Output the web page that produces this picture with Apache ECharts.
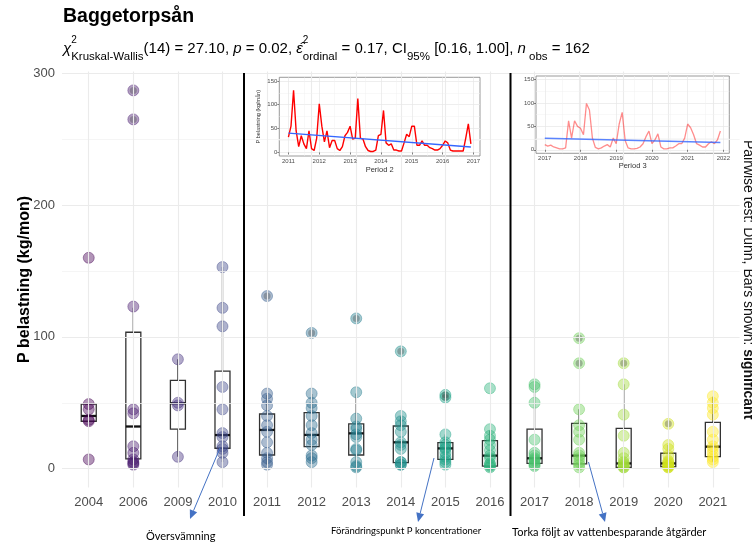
<!DOCTYPE html>
<html><head><meta charset="utf-8">
<script src="https://cdn.jsdelivr.net/npm/echarts@6/dist/echarts.min.js"></script>
<style>html,body{margin:0;padding:0;background:#fff}#c{width:752px;height:545px}</style>
</head><body><div id="c"></div>
<script>
// ---------- data ----------
const years = ['2004','2006','2009','2010','2011','2012','2013','2014','2015','2016','2017','2018','2019','2020','2021'];
const yearColors = ['#440154','#481B6D','#46337E','#3F4889','#365C8D','#2E6E8E','#277F8E','#21908C','#1FA187','#2DB27D','#4AC16D','#71CF57','#9FDA3A','#CFE11C','#FDE725'];
const yTicks = [0, 100, 200, 300];

const p2004 = [160, 49, 45, 37, 36, 7];
const p2006 = [287, 265, 123, 45, 42, 17, 12, 7, 5, 4, 3];
const p2009 = [83, 50, 48, 9];
const p2010 = [153, 122, 108, 62, 45, 27, 24, 17, 15, 12, 5];
const p2011 = [131, 57, 53, 48, 40, 33, 28, 20, 12, 8, 5, 3];
const p2012 = [103, 57, 50, 46, 40, 33, 27, 22, 18, 10, 8, 5];
const p2013 = [114, 58, 38, 32, 30, 26, 24, 15, 14, 5, 2, 1];
const p2014 = [89, 40, 36, 33, 28, 20, 18, 15, 5, 5, 3, 3];
const p2015 = [56, 54, 26, 20, 18, 16, 15, 12, 9, 7, 5, 3];
const p2016 = [61, 30, 25, 22, 18, 14, 10, 8, 4, 3, 2, 1];
const p2017 = [64, 62, 50, 22, 12, 10, 8, 7, 6, 4, 3, 2];
const p2018 = [99, 80, 45, 33, 28, 22, 12, 10, 8, 5, 3, 1];
const p2019 = [80, 64, 41, 25, 12, 8, 5, 4, 3, 2, 1, 1];
const p2020 = [34, 18, 15, 10, 6, 5, 4, 3, 2, 2, 1, 1];
const p2021 = [55, 50, 46, 41, 28, 22, 17, 15, 12, 9, 7, 5];
const pointsByYear = [p2004,p2006,p2009,p2010,p2011,p2012,p2013,p2014,p2015,p2016,p2017,p2018,p2019,p2020,p2021];

// box statistics
const boxLow  = [36, 4, 9, 5, 3, 4.6, 1, 2.8, 2.8, 0.3, 1.5, 0.5, 1, 1, 5.3];
const boxQ1   = [36, 7.4, 30, 15.5, 10.4, 16.7, 10.4, 4.6, 7.1, 2, 4, 3.6, 1, 1.5, 9.1];
const boxMed  = [40, 32, 49.6, 25.5, 29.4, 25.6, 26.8, 20, 15.4, 9.9, 7.9, 9.9, 4, 4, 16.7];
const boxQ3   = [49, 103.5, 67, 74, 41.5, 42.5, 34, 32.4, 19.7, 21.3, 30, 34.4, 30.6, 11.7, 35.2];
const boxHigh = [49, 122, 83, 153, 56, 56.7, 57, 39.5, 26, 28.9, 64, 45, 64, 18, 54.6];

// outliers (year index, value)
const outlierYear  = [1, 1, 4, 5, 6, 7, 8, 8, 11, 11, 12, 13];
const outlierValue = [287, 265, 131, 103, 114, 89, 56, 54, 99, 80, 80, 34];

// inset: monthly loads
const period2 = [32,55,130,45,12,35,18,8,45,8,4,30,
                 102,55,22,45,10,25,25,8,4,12,35,42,
                 55,28,30,113,30,28,12,4,2,2,5,35,
                 38,88,20,15,18,5,5,3,3,20,38,33,
                 55,55,15,15,24,15,15,10,8,5,5,8,
                 15,24,20,5,3,3,3,3,3,30,60,18];
const period3 = [11,8,10,6,4,2,2,4,62,25,62,50,
                 46,32,99,85,25,5,2,4,8,11,6,25,
                 13,55,80,20,4,2,2,3,6,13,28,40,
                 13,21,34,6,2,2,4,4,8,13,13,25,
                 55,47,32,13,10,6,6,13,17,13,21,40];
const period2Start = 2011, period3Start = 2017;
const trend2 = [40.5, 11.5];
const trend3 = [24.5, 15.5];
const inset2Ticks = [2011,2012,2013,2014,2015,2016,2017];
const inset3Ticks = [2017,2018,2019,2020,2021,2022];
const insetYTicks = [0, 50, 100, 150];

// ---------- build ----------
const FONT = '"Liberation Sans", Arial, sans-serif';
const idx = years.map((_, i) => i);
const scatterData = [];
pointsByYear.forEach((arr, i) => arr.forEach(v => scatterData.push({value: [i, v], itemStyle: {color: yearColors[i], borderColor: yearColors[i]}})));
const boxData = idx.map(i => [i, boxLow[i], boxQ1[i], boxMed[i], boxQ3[i], boxHigh[i]]);
const outlierData = outlierYear.map((y, k) => [y, outlierValue[k]]);
const p2Data = period2.map((v, i) => [period2Start + i / 12, v]);
const p3Data = period3.map((v, i) => [period3Start + i / 12, v]);
const t2Data = [[p2Data[0][0], trend2[0]], [p2Data[p2Data.length - 1][0], trend2[1]]];
const t3Data = [[p3Data[0][0], trend3[0]], [p3Data[p3Data.length - 1][0], trend3[1]]];

function renderBox(params, api) {
  const x = api.value(0);
  const lo = api.coord([x, api.value(1)]);
  const q1 = api.coord([x, api.value(2)]);
  const md = api.coord([x, api.value(3)]);
  const q3 = api.coord([x, api.value(4)]);
  const hi = api.coord([x, api.value(5)]);
  const hw = 7.5, st = '#333333';
  return {type: 'group', children: [
    {type: 'line', shape: {x1: lo[0], y1: lo[1], x2: q1[0], y2: q1[1]}, style: {stroke: st, lineWidth: 1.3}},
    {type: 'line', shape: {x1: q3[0], y1: q3[1], x2: hi[0], y2: hi[1]}, style: {stroke: st, lineWidth: 1.3}},
    {type: 'rect', shape: {x: q3[0] - hw, y: q3[1], width: 2 * hw, height: q1[1] - q3[1]}, style: {fill: 'rgba(255,255,255,0.15)', stroke: st, lineWidth: 1.3}},
    {type: 'line', shape: {x1: md[0] - hw, y1: md[1], x2: md[0] + hw, y2: md[1]}, style: {stroke: '#111', lineWidth: 2.3}}
  ]};
}

function gl(color, width) { return {color, width, type: 'solid', opacity: 1}; }
const majorY = [0, 100, 200, 300], minorY = [50, 150, 250];
const mainGridLines = [].concat(
  majorY.map(v => ({yAxis: v, lineStyle: gl('#ebebeb', 1.1)})),
  minorY.map(v => ({yAxis: v, lineStyle: gl('#f2f2f2', 0.8)})),
  idx.map(i => ({xAxis: i, lineStyle: gl('#ebebeb', 1.1)}))
);
function insetLines(xMajor) {
  const out = [];
  [0, 50, 100, 150].forEach(v => out.push({yAxis: v, lineStyle: gl('#e6e6e6', 0.7)}));
  [25, 75, 125].forEach(v => out.push({yAxis: v, lineStyle: gl('#f0f0f0', 0.5)}));
  xMajor.forEach(v => out.push({xAxis: v, lineStyle: gl('#e6e6e6', 0.7)}));
  xMajor.slice(0, -1).forEach(v => out.push({xAxis: v + 0.5, lineStyle: gl('#f0f0f0', 0.5)}));
  return out;
}

function arrow(x1, y1, x2, y2) {
  const ang = Math.atan2(y2 - y1, x2 - x1), L = 9, W = 4;
  const bx = x2 - L * Math.cos(ang), by = y2 - L * Math.sin(ang);
  const px = -Math.sin(ang) * W, py = Math.cos(ang) * W;
  return [
    {type: 'line', z: 20, shape: {x1, y1, x2: bx, y2: by}, style: {stroke: '#4472C4', lineWidth: 1}},
    {type: 'polygon', z: 20, shape: {points: [[x2, y2], [bx + px, by + py], [bx - px, by - py]]}, style: {fill: '#4472C4'}}
  ];
}

const insetAxisCommon = {
  axisLine: {show: false},
  axisTick: {show: true, length: 2, lineStyle: {color: '#333', width: 0.6}},
  axisLabel: {fontSize: 6, color: '#4d4d4d', fontFamily: FONT, margin: 2},
  splitLine: {show: false}, z: 6, nameMoveOverlap: false
};
const markCommon = {silent: true, symbol: 'none', label: {show: false}, lineStyle: {type: 'solid'}, emphasis: {disabled: true}};

const option = {
  backgroundColor: '#ffffff',
  animation: false,
  grid: [
    {left: 62, right: 12.4, top: 71.4, bottom: 57.4, outerBoundsMode: 'none', containLabel: false},
    {left: 279.3, top: 77.3, width: 200.7, height: 78.7, show: true, backgroundColor: '#fff', borderColor: '#808080', borderWidth: 0.8, z: 5, outerBoundsMode: 'none'},
    {left: 536, top: 76, width: 193.3, height: 77.3, show: true, backgroundColor: '#fff', borderColor: '#808080', borderWidth: 0.8, z: 5, outerBoundsMode: 'none'}
  ],
  xAxis: [
    {type: 'value', gridIndex: 0, min: -0.6, max: 14.6,
     axisLine: {show: false},
     axisTick: {show: true, customValues: idx, length: 4, lineStyle: {color: '#333', width: 1}},
     axisLabel: {customValues: idx, formatter: v => years[Math.round(v)], fontSize: 13, color: '#4d4d4d', fontFamily: FONT, margin: 8},
     splitLine: {show: false}},
    Object.assign({}, insetAxisCommon, {type: 'value', gridIndex: 1, min: 2010.704, max: 2017.212,
     axisTick: Object.assign({}, insetAxisCommon.axisTick, {customValues: inset2Ticks}),
     axisLabel: Object.assign({}, insetAxisCommon.axisLabel, {customValues: inset2Ticks, formatter: v => String(Math.round(v))}),
     name: 'Period 2', nameLocation: 'middle', nameGap: 9.5, nameTextStyle: {fontSize: 7.5, color: '#333', fontFamily: FONT, verticalAlign: 'top'}}),
    Object.assign({}, insetAxisCommon, {type: 'value', gridIndex: 2, min: 2016.754, max: 2022.166,
     axisTick: Object.assign({}, insetAxisCommon.axisTick, {customValues: inset3Ticks}),
     axisLabel: Object.assign({}, insetAxisCommon.axisLabel, {customValues: inset3Ticks, formatter: v => String(Math.round(v))}),
     name: 'Period 3', nameLocation: 'middle', nameGap: 9, nameTextStyle: {fontSize: 7.5, color: '#333', fontFamily: FONT, verticalAlign: 'top'}})
  ],
  yAxis: [
    {type: 'value', gridIndex: 0, min: -14.35, max: 301.4,
     axisLine: {show: false},
     axisTick: {show: true, customValues: yTicks, length: 4, lineStyle: {color: '#333', width: 1}},
     axisLabel: {customValues: yTicks, fontSize: 13, color: '#4d4d4d', fontFamily: FONT, margin: 7},
     splitLine: {show: false},
     name: 'P belastning (kg/mon)', nameLocation: 'middle', nameGap: 29, nameMoveOverlap: false,
     nameTextStyle: {fontSize: 16, fontWeight: 'bold', color: '#000', fontFamily: FONT}},
    Object.assign({}, insetAxisCommon, {type: 'value', gridIndex: 1, min: -7.5, max: 157.5,
     axisTick: Object.assign({}, insetAxisCommon.axisTick, {customValues: insetYTicks}),
     axisLabel: Object.assign({}, insetAxisCommon.axisLabel, {customValues: insetYTicks}),
     name: 'P belastning (kg/mån)', nameLocation: 'middle', nameGap: 18, nameTextStyle: {fontSize: 5.5, color: '#333', fontFamily: FONT}}),
    Object.assign({}, insetAxisCommon, {type: 'value', gridIndex: 2, min: -7.5, max: 157.5,
     axisTick: Object.assign({}, insetAxisCommon.axisTick, {customValues: insetYTicks}),
     axisLabel: Object.assign({}, insetAxisCommon.axisLabel, {customValues: insetYTicks})})
  ],
  series: [
    {type: 'scatter', xAxisIndex: 0, yAxisIndex: 0, data: [], z: 1, silent: true,
     markLine: Object.assign({}, markCommon, {data: mainGridLines})},
    {type: 'scatter', xAxisIndex: 0, yAxisIndex: 0, data: scatterData, symbolSize: 11, z: 2,
     itemStyle: {opacity: 0.42, borderWidth: 1}},
    {type: 'scatter', xAxisIndex: 0, yAxisIndex: 0, data: outlierData, symbolSize: 7, z: 2,
     itemStyle: {color: 'rgba(60,60,60,0.4)'}},
    {type: 'custom', xAxisIndex: 0, yAxisIndex: 0, data: boxData, renderItem: renderBox, z: 2,
     encode: {x: 0, y: [1, 2, 3, 4, 5]}},
    {type: 'line', xAxisIndex: 1, yAxisIndex: 1, data: p2Data, showSymbol: false, z: 7,
     lineStyle: {color: '#ff0000', width: 1.4},
     markLine: Object.assign({}, markCommon, {z: 6, data: insetLines(inset2Ticks)})},
    {type: 'line', xAxisIndex: 1, yAxisIndex: 1, data: t2Data, showSymbol: false, z: 8,
     lineStyle: {color: '#3366ff', width: 1.4}},
    {type: 'line', xAxisIndex: 2, yAxisIndex: 2, data: p3Data, showSymbol: false, z: 7,
     lineStyle: {color: 'rgba(255,0,0,0.45)', width: 1.3},
     markLine: Object.assign({}, markCommon, {z: 6, data: insetLines(inset3Ticks)})},
    {type: 'line', xAxisIndex: 2, yAxisIndex: 2, data: t3Data, showSymbol: false, z: 8,
     lineStyle: {color: 'rgba(51,102,255,0.8)', width: 1.5}}
  ],
  graphic: [
    {type: 'rect', z: 3, shape: {x: 248, y: 75, width: 236, height: 101}, style: {fill: '#fff'}},
    {type: 'rect', z: 3, shape: {x: 513, y: 75, width: 222, height: 97}, style: {fill: '#fff'}},
    {type: 'text', x: 63, y: 7, z: 20, style: {text: 'Baggetorpsån', font: 'bold 19.5px ' + FONT, fill: '#000', verticalAlign: 'top'}},
    {type: 'text', x: 63, y: 35, z: 20, style: {
      text: '{i|χ}{sup|2}{sub|Kruskal-Wallis}{t|(14) = 27.10, }{i|p}{t| = 0.02, }{i|ε̂}{sup|2}{sub|ordinal}{t| = 0.17, CI}{sub|95%}{t| [0.16, 1.00], }{i|n}{sub| obs}{t| = 162}',
      verticalAlign: 'top', fill: '#000', font: '15px ' + FONT,
      rich: {
        t: {fontSize: 15, fontFamily: FONT, lineHeight: 28, verticalAlign: 'middle'},
        i: {fontSize: 15, fontFamily: FONT, fontStyle: 'italic', lineHeight: 28, verticalAlign: 'middle'},
        sup: {fontSize: 10, fontFamily: FONT, lineHeight: 11, verticalAlign: 'top', width: 0},
        sub: {fontSize: 11.5, fontFamily: FONT, lineHeight: 12, verticalAlign: 'bottom'}
      }}},
    {type: 'text', x: 741, y: 140, z: 20, rotation: -Math.PI / 2, style: {
      text: '{n|Pairwise test: Dunn, Bars shown: }{b|significant}', align: 'left', verticalAlign: 'bottom', fill: '#111',
      rich: {n: {fontSize: 14, fontFamily: FONT}, b: {fontSize: 14, fontFamily: FONT, fontWeight: 'bold'}}}},
    {type: 'line', z: 20, shape: {x1: 244, y1: 73, x2: 244, y2: 516}, style: {stroke: '#000', lineWidth: 2}},
    {type: 'line', z: 20, shape: {x1: 510.5, y1: 73, x2: 510.5, y2: 516}, style: {stroke: '#000', lineWidth: 2}}
  ].concat(
    arrow(220, 448, 190, 519),
    arrow(434, 458, 418, 522),
    arrow(588.5, 462, 605, 522),
    [
      {type: 'text', x: 146, y: 536, z: 20, style: {text: 'Översvämning', font: '11px Lato, "Open Sans", sans-serif', fill: '#000', verticalAlign: 'middle'}},
      {type: 'text', x: 331, y: 531, z: 20, style: {text: 'Förändringspunkt P koncentrationer', font: '9.5px Lato, "Open Sans", sans-serif', fill: '#000', verticalAlign: 'middle'}},
      {type: 'text', x: 512, y: 532, z: 20, style: {text: 'Torka följt av vattenbesparande åtgärder', font: '11px Lato, "Open Sans", sans-serif', fill: '#000', verticalAlign: 'middle'}}
    ]
  )
};

const chart = echarts.init(document.getElementById('c'), null, {renderer: 'canvas', width: 752, height: 545});
chart.setOption(option);
</script>
</body></html>
